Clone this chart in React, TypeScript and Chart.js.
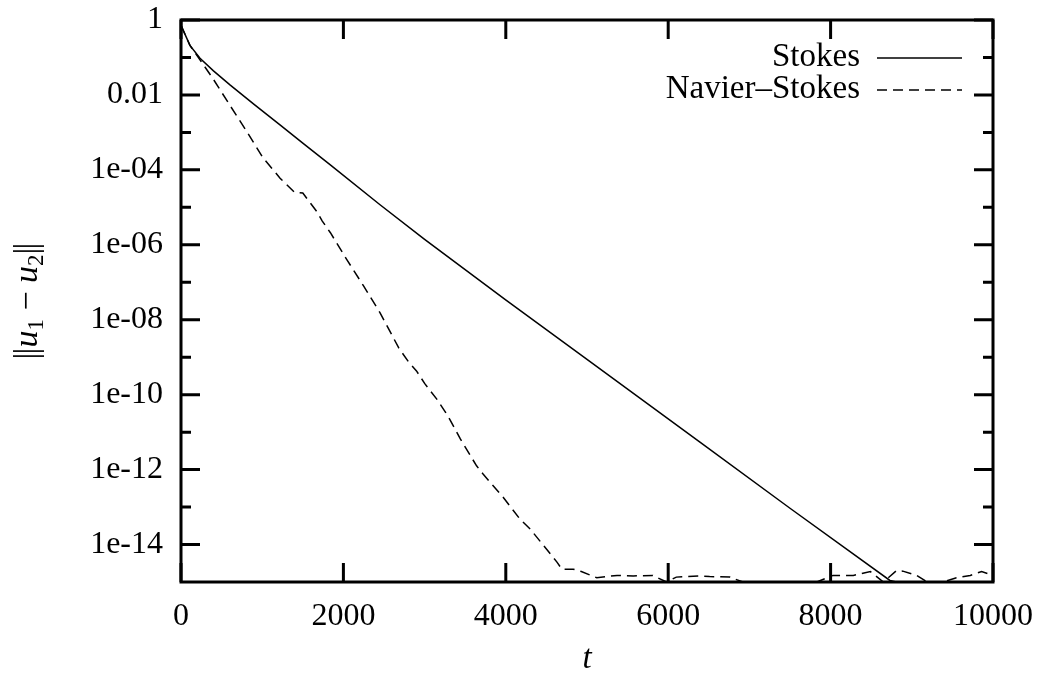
import React, { useEffect, useRef } from 'react';
import { Chart, registerables } from 'chart.js';

Chart.register(...registerables);

// ---- data ----
const X_TICKS = [0, 2000, 4000, 6000, 8000, 10000];
const X_TICK_LABELS = ['0', '2000', '4000', '6000', '8000', '10000'];
const Y_TICKS = [1, 1e-2, 1e-4, 1e-6, 1e-8, 1e-10, 1e-12, 1e-14];
const Y_TICK_LABELS = ['1', '0.01', '1e-04', '1e-06', '1e-08', '1e-10', '1e-12', '1e-14'];
const Y_MINOR_TICKS = [1e-1, 1e-3, 1e-5, 1e-7, 1e-9, 1e-11, 1e-13];
const SERIES_NAMES = ['Stokes', 'Navier–Stokes'];
const X_TITLE = 't';

const T_STOKES = [0, 110, 234, 400, 603, 900, 1219, 1500, 1835, 2451, 3000, 3990, 5000, 6391, 7500, 8731, 9000, 10000];
const STOKES = [0.72, 0.21, 0.095, 0.044, 0.0186, 5.6e-3, 1.58e-3, 5.2e-4, 1.38e-4, 1.17e-5, 1.4e-6, 3.5e-8, 8.7e-10, 5.4e-12, 9.3e-14, 1.1e-15, 8e-16, 7e-16];

const T_NS = [0, 110, 390, 600, 810, 1010, 1220, 1400, 1500, 1670, 1740, 1840, 2040, 2250, 2450, 2680, 2800, 2900, 3000, 3150, 3250, 3310, 3440, 3640, 3720, 3970, 4050, 4170, 4300, 4630, 4690, 4830, 4930, 5120, 5370, 5570, 5810, 5980, 6100, 6390, 6510, 6760, 6920, 7210, 7500, 7830, 8030, 8280, 8490, 8650, 8810, 8890, 9060, 9190, 9380, 9550, 9720, 9860, 10000];
const NAVIER_STOKES = [0.72, 0.21, 0.028, 5.4e-3, 1.05e-3, 2.1e-4, 6.0e-5, 2.5e-5, 2.4e-5, 7.8e-6, 4.3e-6, 2.1e-6, 4.1e-7, 7.9e-8, 1.55e-8, 1.8e-9, 7.6e-10, 4.3e-10, 2.0e-10, 7.6e-11, 3.6e-11, 2.2e-11, 6.6e-12, 1.26e-12, 7.6e-13, 1.8e-13, 1.07e-13, 4.9e-14, 2.6e-14, 3.4e-15, 2.2e-15, 2.2e-15, 1.9e-15, 1.3e-15, 1.5e-15, 1.45e-15, 1.5e-15, 1.0e-15, 1.35e-15, 1.45e-15, 1.4e-15, 1.35e-15, 1.0e-15, 1.0e-15, 1.0e-15, 1.0e-15, 1.5e-15, 1.5e-15, 1.9e-15, 1.0e-15, 2.0e-15, 1.95e-15, 1.5e-15, 1.0e-15, 1.0e-15, 1.3e-15, 1.5e-15, 1.9e-15, 1.5e-15];

// ---- styling ----
const FONT_FAMILY = '"Liberation Serif", "DejaVu Serif", serif';
const FONT_SIZE = 32;

function drawYTitle(ctx: CanvasRenderingContext2D, cx: number, cy: number) {
  const size = 34;
  const main = `${size}px ${FONT_FAMILY}`;
  const ital = `italic ${size}px ${FONT_FAMILY}`;
  const sub = `23px ${FONT_FAMILY}`;
  const parts = [
    { t: '|', f: main, dy: 0, adv: 5 },
    { t: '|', f: main, dy: 0, adv: 0 },
    { t: 'u', f: ital, dy: 0, adv: 0 },
    { t: '1', f: sub, dy: 6, adv: 0 },
    { t: ' − ', f: main, dy: 0, adv: 0 },
    { t: 'u', f: ital, dy: 0, adv: 0 },
    { t: '2', f: sub, dy: 6, adv: 0 },
    { t: '|', f: main, dy: 0, adv: 5 },
    { t: '|', f: main, dy: 0, adv: 0 },
  ];
  const widths = parts.map((p) => {
    ctx.font = p.f;
    return p.adv ? p.adv : ctx.measureText(p.t).width;
  });
  const total = widths.reduce((s, w) => s + w, 0);
  ctx.save();
  ctx.translate(cx, cy);
  ctx.rotate(-Math.PI / 2);
  ctx.fillStyle = '#000';
  ctx.textAlign = 'left';
  ctx.textBaseline = 'alphabetic';
  let x = -total / 2;
  parts.forEach((p, i) => {
    ctx.font = p.f;
    ctx.fillText(p.t, x, 9 + p.dy);
    x += widths[i];
  });
  ctx.restore();
}

const decorPlugin = {
  id: 'decor',
  afterDraw(chart: any) {
    const { ctx, chartArea: a, scales } = chart;
    const xs = scales.x;
    const ys = scales.y;
    ctx.save();
    ctx.strokeStyle = '#000';
    ctx.lineWidth = 3;
    ctx.lineCap = 'butt';
    ctx.setLineDash([]);
    ctx.strokeRect(a.left, a.top, a.right - a.left, a.bottom - a.top);
    const MAJ = 19;
    const MIN = 10;
    ctx.beginPath();
    for (const v of X_TICKS) {
      const px = xs.getPixelForValue(v);
      ctx.moveTo(px, a.bottom);
      ctx.lineTo(px, a.bottom - MAJ);
      ctx.moveTo(px, a.top);
      ctx.lineTo(px, a.top + MAJ);
    }
    for (const v of Y_TICKS) {
      const py = ys.getPixelForValue(v);
      ctx.moveTo(a.left, py);
      ctx.lineTo(a.left + MAJ, py);
      ctx.moveTo(a.right, py);
      ctx.lineTo(a.right - MAJ, py);
    }
    for (const v of Y_MINOR_TICKS) {
      const py = ys.getPixelForValue(v);
      ctx.moveTo(a.left, py);
      ctx.lineTo(a.left + MIN, py);
      ctx.moveTo(a.right, py);
      ctx.lineTo(a.right - MIN, py);
    }
    ctx.stroke();

    // legend
    const textRight = 860;
    const lineL = 877;
    const lineR = 962;
    const rowY = [57, 89];
    chart.data.datasets.forEach((ds: any, i: number) => {
      const y = rowY[i];
      ctx.font = `33px ${FONT_FAMILY}`;
      ctx.fillStyle = '#000';
      ctx.textAlign = 'right';
      ctx.textBaseline = 'middle';
      ctx.fillText(ds.label, textRight, y);
      ctx.beginPath();
      ctx.lineWidth = ds.borderWidth;
      ctx.strokeStyle = ds.borderColor;
      ctx.setLineDash(ds.borderDash || []);
      ctx.moveTo(lineL, y + 1);
      ctx.lineTo(lineR, y + 1);
      ctx.stroke();
      ctx.setLineDash([]);
    });

    // axis titles
    ctx.font = `italic 33px ${FONT_FAMILY}`;
    ctx.fillStyle = '#000';
    ctx.textAlign = 'center';
    ctx.textBaseline = 'middle';
    ctx.fillText(X_TITLE, (a.left + a.right) / 2, 659);
    drawYTitle(ctx, 28, (a.top + a.bottom) / 2);
    ctx.restore();
  },
};

export default function App() {
  const ref = useRef<HTMLCanvasElement | null>(null);
  useEffect(() => {
    if (!ref.current) return;
    const chart = new Chart(ref.current, {
      type: 'line',
      data: {
        datasets: [
          {
            label: SERIES_NAMES[0],
            data: T_STOKES.map((t, i) => ({ x: t, y: STOKES[i] })),
            borderColor: '#000',
            borderWidth: 1.5,
            pointRadius: 0,
            tension: 0,
            fill: false,
          },
          {
            label: SERIES_NAMES[1],
            data: T_NS.map((t, i) => ({ x: t, y: NAVIER_STOKES[i] })),
            borderColor: '#000',
            borderWidth: 1.5,
            borderDash: [10, 6],
            pointRadius: 0,
            tension: 0,
            fill: false,
          },
        ],
      },
      options: {
        responsive: false,
        animation: false,
        devicePixelRatio: 1,
        layout: { padding: { top: 20, right: 52, left: 0, bottom: 0 } },
        plugins: { legend: { display: false }, tooltip: { enabled: false } },
        scales: {
          x: {
            type: 'linear',
            min: 0,
            max: 10000,
            grid: { display: false, drawTicks: false },
            border: { display: false },
            afterBuildTicks: (s: any) => {
              s.ticks = X_TICKS.map((v) => ({ value: v }));
            },
            afterFit: (s: any) => {
              s.height = 95;
              s.paddingLeft = 0;
              s.paddingRight = 0;
              s.paddingTop = 0;
              s.paddingBottom = 0;
            },
            ticks: {
              color: '#000',
              padding: 15,
              maxRotation: 0,
              autoSkip: false,
              font: { family: FONT_FAMILY, size: FONT_SIZE },
              callback: (_v: any, i: number) => X_TICK_LABELS[i],
            },
          },
          y: {
            type: 'logarithmic',
            min: 1e-15,
            max: 1,
            grid: { display: false, drawTicks: false },
            border: { display: false },
            afterBuildTicks: (s: any) => {
              s.ticks = Y_TICKS.map((v) => ({ value: v }));
            },
            afterFit: (s: any) => {
              s.width = 181;
              s.paddingLeft = 0;
              s.paddingRight = 0;
              s.paddingTop = 0;
              s.paddingBottom = 0;
            },
            ticks: {
              color: '#000',
              padding: 18,
              autoSkip: false,
              font: { family: FONT_FAMILY, size: FONT_SIZE },
              callback: (_v: any, i: number) => Y_TICK_LABELS[i],
            },
          },
        },
      },
      plugins: [decorPlugin],
    } as any);
    return () => chart.destroy();
  }, []);
  return (
    <div style={{ position: 'absolute', left: 0, top: 0, width: 1045, height: 677, background: '#fff' }}>
      <canvas ref={ref} width={1045} height={677} style={{ display: 'block' }} />
    </div>
  );
}
